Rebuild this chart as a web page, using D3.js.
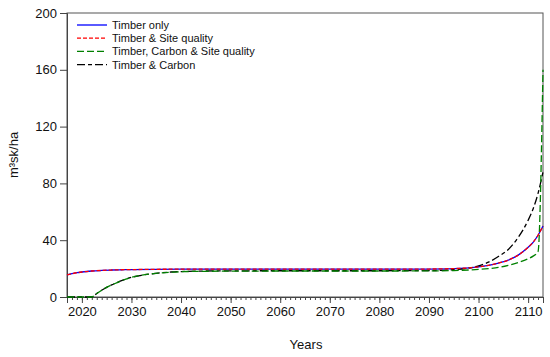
<!DOCTYPE html>
<html>
<head>
<meta charset="utf-8">
<script src="https://cdn.jsdelivr.net/npm/d3@7"></script>
<style>
  body { margin: 0; background: #fff; }
  text { font-family: Arial, "Liberation Sans", sans-serif; fill: #111; }
</style>
</head>
<body>
<div id="chart"></div>
<script>
var svgWidth = 550;
var svgHeight = 357;

var margin = { top: 13, right: 7, bottom: 60, left: 67 };
var width = svgWidth - margin.left - margin.right;
var height = svgHeight - margin.top - margin.bottom;

// data
var seriesNames = ["Timber only", "Timber & Site quality", "Timber, Carbon & Site quality", "Timber & Carbon"];

var timberYears = [2017, 2018, 2019, 2020, 2022, 2024, 2026, 2028, 2030, 2035, 2040, 2050, 2060, 2070, 2080, 2090, 2095, 2098, 2100, 2102, 2104, 2106, 2108, 2110, 2111, 2112, 2113];
var timberOnly = [15.5, 16.4, 17.1, 17.6, 18.3, 18.7, 19.0, 19.2, 19.3, 19.5, 19.6, 19.6, 19.6, 19.6, 19.6, 19.7, 20.0, 20.5, 21.2, 22.3, 23.9, 26.0, 29.5, 35.0, 38.5, 43.5, 50.0];
var timberSite = [15.5, 16.4, 17.1, 17.6, 18.3, 18.7, 19.0, 19.2, 19.3, 19.5, 19.6, 19.6, 19.6, 19.6, 19.6, 19.7, 20.0, 20.5, 21.2, 22.3, 23.9, 26.0, 29.5, 35.0, 38.5, 43.5, 50.0];

var carbonYears = [2017, 2020, 2022, 2023, 2024, 2025, 2026, 2027, 2028, 2030, 2032, 2034, 2036, 2038, 2040, 2045, 2050, 2060, 2070, 2080, 2090, 2095, 2098, 2100, 2102, 2104, 2106, 2108, 2110, 2111, 2112, 2113];
var timberCarbonSite = [0, 0, 0, 2.5, 4.8, 6.8, 8.5, 10.0, 11.5, 13.8, 15.3, 16.3, 17.0, 17.5, 17.8, 18.1, 18.2, 18.3, 18.3, 18.3, 18.4, 18.6, 19.0, 19.4, 20.0, 20.8, 22.3, 24.3, 27.0, 28.8, 32.0, 160.0];
var timberCarbon = [0, 0, 0, 2.5, 4.8, 6.8, 8.5, 10.0, 11.5, 13.8, 15.3, 16.3, 17.1, 17.6, 17.9, 18.3, 18.4, 18.5, 18.5, 18.5, 18.6, 19.2, 20.3, 22.0, 24.5, 28.5, 33.5, 42.0, 54.0, 62.0, 73.0, 88.0];

var yTicks = [0, 40, 80, 120, 160, 200];
var xTicks = [2020, 2030, 2040, 2050, 2060, 2070, 2080, 2090, 2100, 2110];

var svg = d3.select("#chart")
  .append("svg")
  .attr("width", svgWidth)
  .attr("height", svgHeight);

var chartGroup = svg.append("g")
  .attr("transform", `translate(${margin.left}, ${margin.top})`);

var xScale = d3.scaleLinear().domain([2017, 2113]).range([0, width]);
var yScale = d3.scaleLinear().domain([0, 200]).range([height, 0]);

// frame
chartGroup.append("rect")
  .attr("width", width)
  .attr("height", height)
  .attr("fill", "none")
  .attr("stroke", "#555")
  .attr("stroke-width", 1);

// minor year ticks
var minor = d3.range(2017, 2114);
chartGroup.append("g")
  .attr("transform", `translate(0, ${height})`)
  .call(d3.axisBottom(xScale).tickValues(minor).tickSize(3).tickFormat(""))
  .call(g => g.select(".domain").remove())
  .selectAll("line").attr("stroke", "#444");

var xAxis = chartGroup.append("g")
  .attr("transform", `translate(0, ${height})`)
  .call(d3.axisBottom(xScale).tickValues(xTicks).tickSize(6).tickPadding(4).tickFormat(d3.format("d")));
xAxis.select(".domain").attr("stroke", "#444");
xAxis.selectAll("line").attr("stroke", "#444");
xAxis.selectAll("text").style("font-size", "13px").attr("fill", "#111");

var yAxis = chartGroup.append("g")
  .call(d3.axisLeft(yScale).tickValues(yTicks).tickSize(7).tickPadding(3));
yAxis.select(".domain").attr("stroke", "#444");
yAxis.selectAll("line").attr("stroke", "#444");
yAxis.selectAll("text").style("font-size", "13px").attr("fill", "#111");

// axis titles
svg.append("text")
  .attr("transform", "rotate(-90)")
  .attr("x", -155)
  .attr("y", 18)
  .attr("text-anchor", "middle")
  .style("font-size", "13px")
  .text("m³sk/ha");

svg.append("text")
  .attr("x", 306)
  .attr("y", 349)
  .attr("text-anchor", "middle")
  .style("font-size", "13px")
  .text("Years");

// lines
var series = [
  { name: seriesNames[0], years: timberYears, values: timberOnly, color: "#0000ff", dash: null },
  { name: seriesNames[1], years: timberYears, values: timberSite, color: "#ff0000", dash: "4,2" },
  { name: seriesNames[2], years: carbonYears, values: timberCarbonSite, color: "#008000", dash: "7,3" },
  { name: seriesNames[3], years: carbonYears, values: timberCarbon, color: "#000000", dash: "8,3,4,3" }
];

var line = d3.line()
  .x(d => xScale(d[0]))
  .y(d => yScale(d[1]))
  .curve(d3.curveMonotoneX);

var drawOrder = [0, 3, 2, 1];
drawOrder.forEach(function(i) {
  var s = series[i];
  chartGroup.append("path")
    .datum(s.years.map((y, j) => [y, s.values[j]]))
    .attr("fill", "none")
    .attr("stroke", s.color)
    .attr("stroke-width", 1.3)
    .attr("stroke-dasharray", s.dash)
    .attr("d", line);
});

// legend
var legend = svg.append("g").attr("transform", "translate(77, 25)");
series.forEach(function(s, i) {
  var row = legend.append("g").attr("transform", `translate(0, ${i * 13.2})`);
  row.append("line")
    .attr("x1", 0).attr("x2", 30)
    .attr("stroke", s.color)
    .attr("stroke-width", 1.3)
    .attr("stroke-dasharray", s.dash);
  row.append("text")
    .attr("x", 35)
    .attr("y", 4)
    .style("font-size", "11px")
    .text(s.name);
});
</script>
</body>
</html>
